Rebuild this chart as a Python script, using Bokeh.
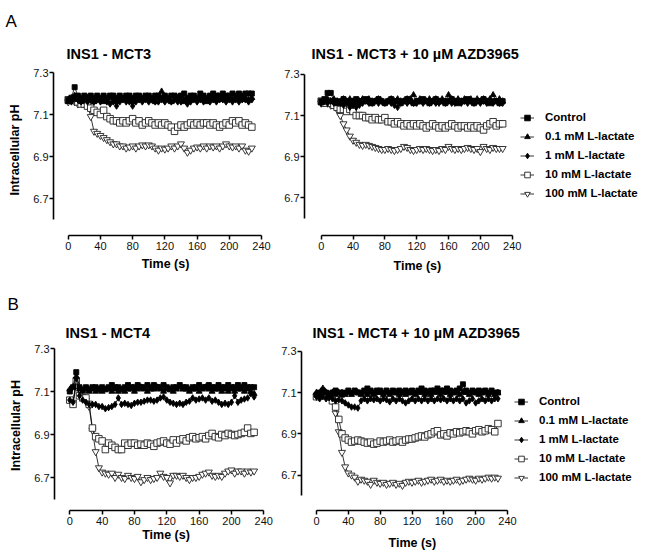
from bokeh.plotting import figure
from bokeh.models import Range1d, FixedTicker, Legend, LegendItem, Title
from bokeh.layouts import column, row
from bokeh.embed import file_html
from bokeh.resources import INLINE

# ---------------- data ----------------
time_s = list(range(0, 229, 4))
series_labels = ["Control", "0.1 mM L-lactate", "1 mM L-lactate",
                 "10 mM L-lactate", "100 mM L-lactate"]
x_ticks = [0, 40, 80, 120, 160, 200, 240]
y_ticks = [6.7, 6.9, 7.1, 7.3]
titles = ["INS1 - MCT3", "INS1 - MCT3 + 10 \u00b5M AZD3965",
          "INS1 - MCT4", "INS1 - MCT4 + 10 \u00b5M AZD3965"]
panel_letters = ["A", "B"]
x_label = "Time (s)"
y_label = "Intracellular pH"

# Panel A, INS1 - MCT3
a1_control = [7.17,7.18,7.23,7.19,7.18,7.19,7.18,7.19,7.18,7.19,
              7.18,7.19,7.18,7.19,7.19,7.18,7.19,7.18,7.19,7.19,
              7.18,7.19,7.19,7.18,7.19,7.19,7.18,7.19,7.19,7.18,
              7.19,7.18,7.19,7.19,7.18,7.19,7.20,7.18,7.19,7.19,
              7.18,7.20,7.19,7.18,7.19,7.20,7.19,7.19,7.20,7.19,
              7.19,7.20,7.19,7.20,7.19,7.20,7.20,7.20]
a1_lac01 = [7.16,7.17,7.19,7.17,7.16,7.17,7.18,7.17,7.16,7.17,
            7.17,7.16,7.17,7.18,7.17,7.16,7.17,7.17,7.18,7.17,
            7.16,7.17,7.18,7.17,7.17,7.18,7.17,7.16,7.18,7.21,
            7.17,7.17,7.16,7.17,7.18,7.17,7.16,7.17,7.18,7.17,
            7.17,7.18,7.17,7.16,7.17,7.18,7.17,7.17,7.18,7.17,
            7.18,7.17,7.17,7.18,7.17,7.18,7.17,7.18]
a1_lac1 = [7.17,7.16,7.18,7.17,7.16,7.17,7.16,7.17,7.16,7.17,
           7.16,7.17,7.16,7.15,7.16,7.14,7.16,7.17,7.16,7.16,
           7.14,7.16,7.17,7.16,7.17,7.16,7.17,7.16,7.16,7.17,
           7.16,7.17,7.16,7.17,7.16,7.16,7.17,7.15,7.16,7.17,
           7.16,7.17,7.16,7.17,7.16,7.17,7.16,7.17,7.17,7.16,
           7.17,7.16,7.17,7.16,7.17,7.17,7.16,7.17]
a1_lac10 = [7.17,7.17,7.18,7.16,7.15,7.15,7.14,7.13,7.12,7.11,
            7.10,7.12,7.09,7.08,7.07,7.07,7.06,7.07,7.06,7.07,
            7.08,7.06,7.07,7.05,7.06,7.07,7.06,7.05,7.06,7.05,
            7.06,7.05,7.04,7.02,7.04,7.05,7.04,7.05,7.06,7.05,
            7.06,7.05,7.06,7.06,7.05,7.06,7.05,7.04,7.05,7.06,
            7.05,7.07,7.06,7.07,7.05,7.06,7.05,7.04]
a1_lac100 = [7.16,7.17,7.16,7.15,7.16,7.15,7.14,7.09,7.02,7.01,
             7.00,6.99,6.98,6.97,6.96,6.96,6.95,6.95,6.94,6.945,
             6.95,6.94,6.95,6.955,6.95,6.955,6.95,6.94,6.93,6.94,
             6.935,6.94,6.95,6.94,6.95,6.96,6.94,6.92,6.93,6.94,
             6.945,6.94,6.95,6.94,6.95,6.945,6.95,6.94,6.95,6.96,
             6.95,6.945,6.95,6.94,6.95,6.93,6.925,6.94]

# Panel A, INS1 - MCT3 + 10 uM AZD3965
a2_control = [7.17,7.18,7.21,7.21,7.17,7.16,7.17,7.18,7.17,7.16,
              7.17,7.18,7.17,7.17,7.18,7.17,7.16,7.17,7.18,7.17,
              7.16,7.17,7.18,7.17,7.17,7.16,7.17,7.18,7.17,7.16,
              7.17,7.17,7.18,7.17,7.16,7.17,7.18,7.17,7.17,7.16,
              7.17,7.18,7.17,7.16,7.17,7.17,7.18,7.17,7.16,7.17,
              7.17,7.18,7.17,7.16,7.17,7.17,7.16,7.17]
a2_lac01 = [7.16,7.17,7.18,7.17,7.18,7.17,7.16,7.18,7.17,7.18,
            7.17,7.16,7.17,7.18,7.17,7.18,7.17,7.17,7.18,7.17,
            7.16,7.17,7.18,7.17,7.18,7.17,7.17,7.18,7.18,7.20,
            7.17,7.18,7.17,7.17,7.18,7.17,7.18,7.17,7.18,7.17,
            7.20,7.18,7.17,7.18,7.17,7.18,7.17,7.18,7.17,7.18,
            7.17,7.18,7.17,7.18,7.20,7.17,7.18,7.17]
a2_lac1 = [7.16,7.17,7.16,7.17,7.16,7.17,7.16,7.15,7.16,7.14,
           7.15,7.14,7.15,7.16,7.17,7.16,7.16,7.17,7.16,7.17,
           7.16,7.17,7.16,7.15,7.14,7.16,7.17,7.16,7.17,7.16,
           7.16,7.17,7.16,7.17,7.16,7.17,7.16,7.16,7.17,7.16,
           7.17,7.16,7.16,7.17,7.16,7.17,7.16,7.17,7.16,7.17,
           7.16,7.17,7.16,7.17,7.16,7.17,7.16,7.16]
a2_lac10 = [7.17,7.16,7.17,7.16,7.15,7.14,7.13,7.13,7.12,7.13,
            7.12,7.10,7.10,7.10,7.09,7.09,7.08,7.09,7.08,7.08,
            7.09,7.07,7.07,7.06,7.07,7.06,7.05,7.06,7.05,7.06,
            7.05,7.06,7.05,7.04,7.05,7.06,7.05,7.04,7.05,7.04,
            7.05,7.06,7.05,7.04,7.05,7.05,7.04,7.05,7.04,7.05,
            7.04,7.03,7.05,7.06,7.07,7.05,7.06,7.06]
a2_lac100 = [7.16,7.17,7.16,7.15,7.15,7.13,7.10,7.06,7.03,7.00,
             6.98,6.97,6.96,6.955,6.96,6.955,6.95,6.945,6.94,6.935,
             6.935,6.94,6.935,6.93,6.935,6.94,6.95,6.945,6.935,6.93,
             6.935,6.94,6.935,6.94,6.935,6.93,6.935,6.93,6.94,6.935,
             6.95,6.94,6.935,6.94,6.935,6.94,6.945,6.94,6.935,6.94,
             6.925,6.95,6.94,6.935,6.945,6.94,6.94,6.94]

# Panel B, INS1 - MCT4
b1_control = [7.10,7.12,7.19,7.12,7.11,7.12,7.11,7.12,7.12,7.11,
              7.12,7.11,7.12,7.13,7.12,7.12,7.11,7.12,7.13,7.12,
              7.12,7.13,7.12,7.12,7.13,7.12,7.13,7.12,7.12,7.13,
              7.12,7.11,7.12,7.12,7.13,7.12,7.12,7.11,7.12,7.12,
              7.13,7.12,7.12,7.13,7.12,7.12,7.13,7.12,7.12,7.13,
              7.12,7.12,7.13,7.12,7.13,7.12,7.12,7.12]
b1_lac01 = [7.11,7.12,7.17,7.11,7.10,7.11,7.10,7.11,7.10,7.11,
            7.10,7.11,7.11,7.10,7.11,7.10,7.11,7.10,7.11,7.11,
            7.10,7.11,7.12,7.11,7.10,7.11,7.11,7.12,7.11,7.10,
            7.11,7.11,7.10,7.11,7.12,7.11,7.11,7.10,7.11,7.11,
            7.10,7.11,7.12,7.11,7.10,7.11,7.11,7.10,7.11,7.10,
            7.11,7.10,7.11,7.11,7.10,7.11,7.10,7.09]
b1_lac1 = [7.06,7.05,7.16,7.08,7.06,7.05,7.04,7.04,7.04,7.03,
           7.03,7.02,7.025,7.03,7.04,7.07,7.04,7.045,7.04,7.035,
           7.045,7.05,7.05,7.055,7.06,7.06,7.055,7.06,7.07,7.075,
           7.06,7.05,7.045,7.04,7.045,7.04,7.05,7.055,7.07,7.06,
           7.065,7.07,7.06,7.07,7.055,7.06,7.05,7.04,7.045,7.04,
           7.05,7.08,7.05,7.06,7.065,7.07,7.09,7.075]
b1_lac10 = [7.06,7.04,7.15,7.08,7.07,7.07,7.04,6.93,6.89,6.88,
            6.87,6.83,6.86,6.85,6.84,6.83,6.83,6.86,6.85,6.86,
            6.86,6.85,6.855,6.85,6.86,6.855,6.845,6.86,6.865,6.87,
            6.86,6.855,6.875,6.86,6.875,6.88,6.87,6.885,6.89,6.88,
            6.885,6.89,6.88,6.895,6.905,6.89,6.885,6.90,6.895,6.905,
            6.90,6.895,6.90,6.905,6.91,6.93,6.905,6.91]
b1_lac100 = [7.06,7.05,7.13,7.08,7.07,7.06,7.03,6.92,6.82,6.745,
             6.725,6.72,6.715,6.72,6.70,6.715,6.70,6.695,6.71,6.70,
             6.695,6.705,6.68,6.69,6.70,6.69,6.695,6.70,6.72,6.705,
             6.70,6.675,6.71,6.71,6.705,6.71,6.70,6.69,6.70,6.70,
             6.705,6.715,6.72,6.725,6.71,6.705,6.71,6.705,6.72,6.73,
             6.735,6.72,6.73,6.73,6.72,6.73,6.725,6.73]

# Panel B, INS1 - MCT4 + 10 uM AZD3965
b2_control = [7.09,7.10,7.11,7.10,7.09,7.10,7.11,7.10,7.09,7.10,
              7.11,7.10,7.11,7.10,7.10,7.11,7.12,7.11,7.10,7.11,
              7.11,7.10,7.11,7.10,7.11,7.10,7.11,7.10,7.11,7.10,
              7.11,7.10,7.11,7.12,7.11,7.10,7.11,7.11,7.12,7.11,
              7.11,7.12,7.11,7.10,7.11,7.12,7.14,7.11,7.10,7.11,
              7.10,7.11,7.10,7.11,7.10,7.11,7.10,7.10]
b2_lac01 = [7.10,7.09,7.12,7.10,7.09,7.10,7.09,7.10,7.10,7.09,
            7.10,7.09,7.10,7.10,7.09,7.10,7.09,7.10,7.09,7.10,
            7.10,7.09,7.10,7.09,7.10,7.10,7.09,7.10,7.09,7.10,
            7.10,7.09,7.10,7.10,7.09,7.10,7.09,7.10,7.10,7.09,
            7.10,7.10,7.09,7.10,7.10,7.09,7.10,7.10,7.09,7.10,
            7.10,7.09,7.10,7.10,7.09,7.10,7.09,7.10]
b2_lac1 = [7.08,7.07,7.08,7.07,7.075,7.07,7.06,7.065,7.06,7.05,
           7.04,7.03,7.03,7.025,7.06,7.07,7.06,7.07,7.065,7.07,
           7.06,7.07,7.065,7.055,7.07,7.06,7.07,7.06,7.05,7.06,
           7.07,7.06,7.07,7.06,7.07,7.06,7.07,7.06,7.07,7.065,
           7.07,7.06,7.07,7.06,7.07,7.06,7.07,7.05,7.06,7.07,
           7.05,7.06,7.07,7.06,7.07,7.06,7.07,7.07]
b2_lac10 = [7.08,7.09,7.10,7.09,7.08,7.06,7.03,6.97,6.90,6.88,
            6.87,6.86,6.865,6.87,6.865,6.86,6.855,6.86,6.85,6.855,
            6.865,6.86,6.865,6.87,6.86,6.865,6.87,6.86,6.87,6.875,
            6.875,6.88,6.885,6.89,6.885,6.895,6.90,6.91,6.915,6.895,
            6.90,6.89,6.905,6.90,6.91,6.905,6.91,6.915,6.91,6.90,
            6.915,6.92,6.91,6.915,6.925,6.92,6.91,6.95]
b2_lac100 = [7.08,7.09,7.10,7.09,7.08,7.06,7.00,6.91,6.81,6.74,
             6.71,6.70,6.69,6.67,6.68,6.675,6.67,6.655,6.675,6.665,
             6.66,6.665,6.655,6.66,6.665,6.655,6.66,6.65,6.665,6.67,
             6.665,6.67,6.675,6.665,6.67,6.675,6.68,6.67,6.675,6.68,
             6.67,6.675,6.67,6.675,6.68,6.67,6.675,6.68,6.685,6.68,
             6.675,6.685,6.68,6.685,6.69,6.685,6.69,6.685]

panels_data = [
    [a1_control, a1_lac01, a1_lac1, a1_lac10, a1_lac100],
    [a2_control, a2_lac01, a2_lac1, a2_lac10, a2_lac100],
    [b1_control, b1_lac01, b1_lac1, b1_lac10, b1_lac100],
    [b2_control, b2_lac01, b2_lac1, b2_lac10, b2_lac100],
]

# ---------------- styles / layout ----------------
FONT = "Liberation Sans"
styles = [
    dict(marker="square", size=5, fill_color="black", line_color="black"),
    dict(marker="triangle", size=6, fill_color="black", line_color="black"),
    dict(marker="diamond", size=6.5, fill_color="black", line_color="black"),
    dict(marker="square", size=6.5, fill_color="white", line_color="#222222"),
    dict(marker="inverted_triangle", size=7, fill_color="white", line_color="#222222"),
]

# page-pixel geometry of each panel: fig (left, top, w, h), frame (l, t, r, b)
geoms = [
    dict(fig=(0, 0, 277, 283), frame=(53, 64, 277, 235), x0=67.7, x240=261.0,
         y73=72.0, y67=198.0, t_off=13, t_standoff=5,
         l_off=-48, l_va="top", l_standoff=18,
         time_off=None, time_va="top", time_standoff=4, ylab=True, legend=None),
    dict(fig=(277, 0, 371, 283), frame=(304, 64, 640, 237), x0=320.7, x240=511.7,
         y73=74.0, y67=199.0, t_off=7, t_standoff=5,
         l_off=0, l_va="top", l_standoff=18,
         time_off=89, time_va="top", time_standoff=13, ylab=False, legend=(520, 109.5)),
    dict(fig=(0, 283, 277, 274), frame=(54, 340, 277, 510), x0=69.3, x240=263.3,
         y73=348.0, y67=477.0, t_off=11, t_standoff=0,
         l_off=-47, l_va="bottom", l_standoff=16.5,
         time_off=None, time_va="top", time_standoff=0, ylab=True, legend=None),
    dict(fig=(277, 283, 371, 274), frame=(301, 340, 640, 513), x0=316.0, x240=507.0,
         y73=351.0, y67=477.0, t_off=11, t_standoff=0,
         l_off=0, l_va="bottom", l_standoff=16.5,
         time_off=87, time_va="bottom", time_standoff=13, ylab=False, legend=(514, 394.5)),
]


def make_panel(idx):
    g = geoms[idx]
    fl, ft, fw, fh = g["fig"]
    L, T, R, B = g["frame"]
    s = (g["x240"] - g["x0"]) / 240.0
    xs = (L - g["x0"]) / s
    xe = (R - g["x0"]) / s
    k = (g["y67"] - g["y73"]) / 0.6
    ye = 7.3 + (g["y73"] - T) / k
    ys = 7.3 - (B - g["y73"]) / k

    p = figure(width=fw, height=fh, x_range=Range1d(xs, xe), y_range=Range1d(ys, ye),
               output_backend="svg", toolbar_location=None,
               min_border_left=L - fl, min_border_right=fl + fw - R,
               min_border_top=T - ft, min_border_bottom=ft + fh - B)
    p.outline_line_color = None
    p.xgrid.visible = False
    p.ygrid.visible = False
    p.background_fill_color = "white"
    p.border_fill_color = "white"

    # outer title row: panel letter (blank on right-hand panels, keeps heights equal)
    p.title.text = panel_letters[idx // 2] if idx % 2 == 0 else " "
    p.title.align = "left"
    p.title.offset = g["l_off"]
    p.title.standoff = g["l_standoff"]
    p.title.vertical_align = g["l_va"]
    p.title.text_font = FONT
    p.title.text_font_size = "17px"
    p.title.text_font_style = "normal"
    p.title.text_color = "black"

    # inner title row: panel title
    p.add_layout(Title(text=titles[idx], align="left", offset=g["t_off"],
                       standoff=g["t_standoff"], vertical_align="bottom",
                       text_font=FONT, text_font_size="14.5px",
                       text_font_style="bold", text_color="black"), "above")

    for ax in (p.xaxis[0], p.yaxis[0]):
        ax.axis_line_width = 1.6
        ax.axis_line_color = "black"
        ax.major_tick_line_width = 1.5
        ax.major_tick_line_color = "black"
        ax.major_tick_in = 0
        ax.major_tick_out = 4
        ax.minor_tick_line_color = None
        ax.major_label_text_font = FONT
        ax.major_label_text_font_size = "11px"
        ax.major_label_text_color = "#111111"
        ax.axis_label_text_font = FONT
        ax.axis_label_text_font_size = "12.5px"
        ax.axis_label_text_font_style = "bold"
        ax.axis_label_text_color = "black"
    p.xaxis.ticker = FixedTicker(ticks=x_ticks)
    p.xaxis.bounds = (0, 240)
    p.xaxis.major_label_standoff = 2
    p.yaxis.ticker = FixedTicker(ticks=y_ticks)
    p.yaxis.bounds = (6.6, 7.3)
    p.yaxis.major_label_standoff = 1
    if g["ylab"]:
        p.yaxis.axis_label = y_label
        p.yaxis.axis_label_standoff = 8

    if g["time_off"] is None:
        p.xaxis.axis_label = x_label
        p.xaxis.axis_label_standoff = g["time_standoff"]
    else:
        # frame is widened for the legend, so the x label is placed under the axis span
        p.add_layout(Title(text=x_label, align="left", offset=g["time_off"],
                           standoff=g["time_standoff"], vertical_align=g["time_va"],
                           text_font=FONT, text_font_size="12.5px",
                           text_font_style="bold", text_color="black"), "below")

    rends = []
    data = panels_data[idx]
    for j in [4, 3, 2, 1, 0]:
        st = styles[j]
        lr = p.line(time_s, data[j], line_color="black", line_width=0.8)
        sr = p.scatter(time_s, data[j], marker=st["marker"], size=st["size"],
                       fill_color=st["fill_color"], line_color=st["line_color"],
                       line_width=0.9)
        rends.append((j, lr, sr))
    rends.sort(key=lambda r: r[0])

    if g["legend"] is not None:
        items = [LegendItem(label=series_labels[j], renderers=[lr, sr]) for j, lr, sr in rends]
        lx, ltop = g["legend"]
        item_h = 19
        legend = Legend(items=items, location=(lx - L, B - (ltop + len(items) * item_h)),
                        orientation="vertical", glyph_width=14, glyph_height=item_h,
                        label_height=item_h, spacing=0, padding=0, margin=0,
                        label_standoff=11, border_line_color=None,
                        background_fill_alpha=0, label_text_font=FONT,
                        label_text_font_size="11.5px", label_text_font_style="bold",
                        label_text_color="black")
        p.add_layout(legend)
    return p


figs = [make_panel(i) for i in range(4)]
layout = column(row(figs[0], figs[1], spacing=0), row(figs[2], figs[3], spacing=0), spacing=0)

open("out.html", "w").write(file_html(layout, INLINE))
